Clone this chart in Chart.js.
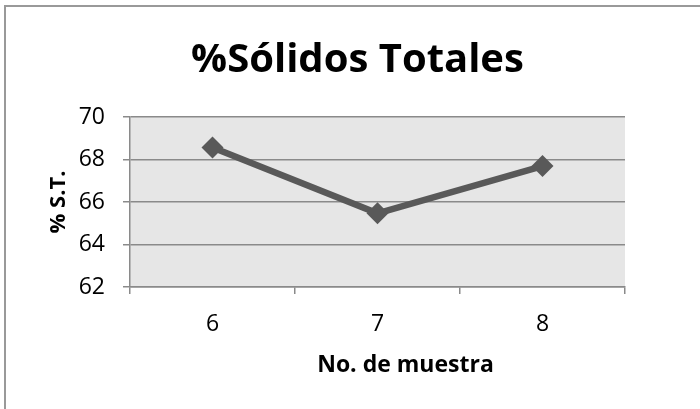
<!DOCTYPE html>
<html>
<head>
<meta charset="utf-8">
<script src="https://cdn.jsdelivr.net/npm/chart.js@4/dist/chart.umd.min.js"></script>
<style>
	html, body { margin: 0; padding: 0; background: #fff; overflow: hidden; }
	#wrap { position: relative; width: 700px; height: 409px; }
	#frame { position: absolute; left: 4px; top: 5px; width: 720px; height: 430px; border: 2px solid #999; pointer-events: none; }
</style>
</head>
<body>
<div id="wrap">
	<canvas id="chart" width="700" height="409"></canvas>
	<div id="frame"></div>
</div>
<script>
const title = '%Sólidos Totales';
const x_title = 'No. de muestra';
const y_title = '% S.T.';
const muestras = ['6', '7', '8'];
const solidos = [68.56, 65.47, 67.69];
const y_min = 62;
const y_max = 70;
const y_step = 2;

const font = '"Open Sans", sans-serif';
const grid_color = '#8a8a8a';

// grey plot area + titles drawn by hand (excel puts them a bit off-centre)
const extras = {
	id: 'extras',
	beforeDraw(chart) {
		const { ctx, chartArea: a } = chart;
		ctx.save();
		ctx.fillStyle = '#e6e6e6';
		ctx.fillRect(a.left, a.top, a.right - a.left, a.bottom - a.top);
		ctx.restore();
	},
	afterDraw(chart) {
		const { ctx, chartArea: a } = chart;
		ctx.save();
		ctx.fillStyle = '#000';
		ctx.textAlign = 'center';
		ctx.textBaseline = 'alphabetic';

		ctx.font = 'bold 40px ' + font;
		ctx.fillText(title, (a.left + a.right) / 2 - 20, a.top - 45);

		ctx.font = 'bold 23px ' + font;
		ctx.fillText(x_title, (a.left + a.right) / 2 + 28, a.bottom + 85);

		ctx.font = 'bold 22px ' + font;
		ctx.translate(a.left - 65, (a.top + a.bottom) / 2);
		ctx.rotate(-Math.PI / 2);
		ctx.fillText(y_title, 0, 0);
		ctx.restore();
	}
};

new Chart(document.getElementById('chart').getContext('2d'), {
	type: 'line',
	data: {
		labels: muestras,
		datasets: [{
			label: y_title,
			data: solidos,
			borderColor: '#595959',
			backgroundColor: '#595959',
			borderWidth: 6.5,
			pointStyle: 'rectRot',
			pointRadius: 11,
			pointBorderWidth: 0,
			pointBackgroundColor: '#595959',
			tension: 0
		}]
	},
	options: {
		responsive: false,
		animation: false,
		layout: { padding: { top: 117, right: 75, bottom: 0, left: 0 } },
		plugins: {
			legend: { display: false },
			title: { display: false },
			tooltip: { enabled: false }
		},
		scales: {
			x: {
				offset: true,
				afterFit: (scale) => { scale.height = 122; },
				grid: { offset: true, drawOnChartArea: false, drawTicks: true, tickLength: 7, color: grid_color, lineWidth: 1.5 },
				border: { display: true, color: grid_color, width: 1.5 },
				ticks: { color: '#000', font: { family: font, size: 23 }, padding: 17, maxRotation: 0 }
			},
			y: {
				min: y_min,
				max: y_max,
				afterFit: (scale) => { scale.width = 130; },
				grid: { color: grid_color, lineWidth: 1.5, tickLength: 7, drawTicks: true },
				border: { display: true, color: grid_color, width: 1.5 },
				ticks: { stepSize: y_step, color: '#000', font: { family: font, size: 23 }, padding: 18 }
			}
		}
	},
	plugins: [extras]
});
</script>
</body>
</html>
